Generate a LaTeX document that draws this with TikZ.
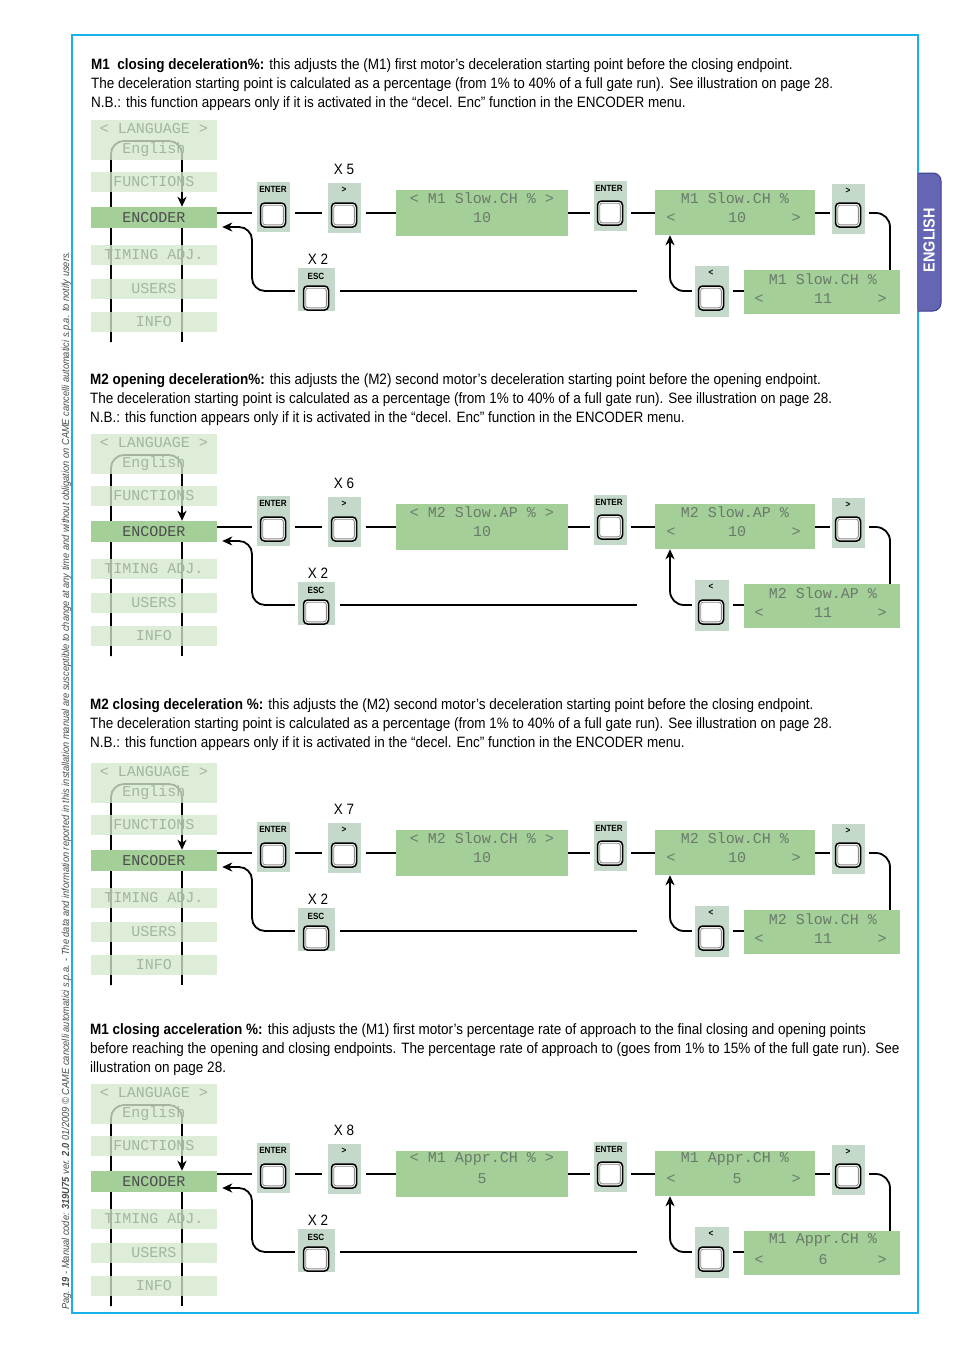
\documentclass[tikz,border=0pt]{standalone}
\usepackage{fontspec}
\setmainfont{Liberation Sans}[FakeStretch=0.9]
\newfontfamily\lcdfont{Liberation Mono}
\usetikzlibrary{arrows.meta,backgrounds,calc}
\definecolor{lcdg}{HTML}{A4CF98}
\definecolor{menul}{HTML}{D4E8CC}
\definecolor{btng}{HTML}{C5D9CB}
\definecolor{lcdtext}{HTML}{6A7A6A}
\definecolor{menutext}{HTML}{A3B59F}
\definecolor{framec}{HTML}{1AB0E8}
\definecolor{tabc}{HTML}{6466B4}
\definecolor{tabd}{HTML}{3C3E8C}
\tikzset{
  flow/.style={line width=1.8pt, draw=black},
  arr/.style={flow, -{Stealth[length=10pt,width=9pt,inset=3pt]}},
  menubox/.style={fill=menul, fill opacity=0.78, text opacity=1, minimum width=126pt, minimum height=20pt, inner sep=0pt,
     font=\lcdfont\fontsize{15}{15}\selectfont, text=menutext},
  encbox/.style={fill=lcdg, minimum width=126pt, minimum height=21pt, inner sep=0pt,
     font=\lcdfont\fontsize{15}{15}\selectfont, text=black!70},
  menutxt/.style={inner sep=0pt, font=\lcdfont\fontsize{15}{15}\selectfont, text=menutext},
  lcdbox/.style={fill=lcdg, inner sep=0pt},
  lcdtxt/.style={inner sep=0pt, font=\lcdfont\fontsize{15}{15}\selectfont, text=lcdtext},
  btnbg/.style={fill=btng, inner sep=0pt, minimum width=33pt, minimum height=50pt},
  btn/.style={fill=white, draw=black, line width=1.5pt, rounded corners=4pt, minimum width=25pt, minimum height=24pt, inner sep=0pt,
     path picture={\draw[black!45, line width=0.9pt, rounded corners=2.5pt]
       ([shift={(2.2pt,-2.2pt)}]path picture bounding box.north west) rectangle
       ([shift={(-2.2pt,2.2pt)}]path picture bounding box.south east);}},
  btnlbl/.style={inner sep=0pt, font=\bfseries\fontsize{9}{9}\selectfont},
  xlbl/.style={inner sep=0pt, font=\fontsize{15}{15}\selectfont},
  body/.style={inner sep=0pt, anchor=base west, font=\fontsize{15}{15}\selectfont},
}
\newcommand\MenuCol[2]{%
\begin{scope}[shift={(0,#1)}]
  \node[menubox, minimum height=40pt] (lang#2) at (154,140) {};
  \node[menutxt] (langa#2) at (154,129) {< LANGUAGE >};
  \node[menutxt] (langb#2) at (154,150) {English};
  \node[menubox] (func#2) at (154,182) {FUNCTIONS};
  \node[encbox] (enc#2) at (154,217.5) {ENCODER};
  \node[menubox] (tim#2) at (154,255) {TIMING ADJ.};
  \node[menubox] (usr#2) at (154,288.5) {USERS};
  \node[menubox] (inf#2) at (154,322) {INFO};
  \coordinate (lbot#2) at (111,342);
  \coordinate (rbot#2) at (182,342);
  \begin{pgfonlayer}{background}
    \draw[arr, rounded corners=13pt] (lbot#2) -- (111,141) -- (182,141) -- (enc#2.north -| rbot#2);
    \draw[flow] (enc#2.south -| rbot#2) -- (rbot#2);
  \end{pgfonlayer}
\end{scope}}
\newcommand\FlowRow[6]{%
\begin{scope}[shift={(0,#1)}]
  \coordinate (row#2) at (0,213);
  \coordinate (rowb#2) at (0,291);
  \coordinate (ea#2) at (0,227);
  \coordinate (rc#2) at (890,213);
  \coordinate (lc#2) at (670,291);
  \coordinate (ec#2) at (252,291);
  \coordinate (escend#2) at (637,291);
  % ENTER 1
  \node[btnbg] (ea1#2) at (273,206.5) {};
  \node[btnlbl] (ea1l#2) at (273,189) {ENTER};
  \node[btn] (ea1b#2) at (273,215) {};
  % > 1
  \node[btnbg] (nx1#2) at (344,208) {};
  \node[btnlbl] (nx1l#2) at (344,190) {>};
  \node[btn] (nx1b#2) at (344,215) {};
  \node[xlbl] (xa#2) at (344,169) {X #3};
  % LCD 1
  \node[lcdbox, minimum width=172pt, minimum height=46pt] (d1#2) at (482,213) {};
  \node[lcdtxt] (d1a#2) at (482,198) {< #4 >};
  \node[lcdtxt] (d1b#2) at (482,218) {#5};
  % ENTER 2
  \node[btnbg] (ea2#2) at (610.5,205.5) {};
  \node[btnlbl] (ea2l#2) at (609,188) {ENTER};
  \node[btn] (ea2b#2) at (610,213) {};
  % LCD 2
  \node[lcdbox, minimum width=160pt, minimum height=45pt] (d2#2) at (735,212.5) {};
  \node[lcdtxt] (d2a#2) at (735,198) {#4};
  \node[lcdtxt] (d2l#2) at (671,218) {<};
  \node[lcdtxt] (d2b#2) at (737,218) {#5};
  \node[lcdtxt] (d2r#2) at (796,218) {>};
  % > 2
  \node[btnbg] (nx2#2) at (848.5,209) {};
  \node[btnlbl] (nx2l#2) at (848,191) {>};
  \node[btn] (nx2b#2) at (848,215) {};
  % LCD 3
  \node[lcdbox, minimum width=156pt, minimum height=44pt] (d3#2) at (822,292) {};
  \node[lcdtxt] (d3a#2) at (823,279) {#4};
  \node[lcdtxt] (d3l#2) at (759,299) {<};
  \node[lcdtxt] (d3b#2) at (823,299) {#6};
  \node[lcdtxt] (d3r#2) at (882,299) {>};
  % < button
  \node[btnbg, minimum width=34pt, minimum height=51pt] (lt#2) at (712,291.5) {};
  \node[btnlbl] (ltl#2) at (711,273) {<};
  \node[btn] (ltb#2) at (711,298) {};
  % ESC
  \node[btnbg, minimum width=37pt, minimum height=43pt] (esc#2) at (316.5,289.5) {};
  \node[btnlbl] (escl#2) at (316,276) {ESC};
  \node[btn] (escb#2) at (316,298) {};
  \node[xlbl] (xb#2) at (318,259) {X 2};
  % connectors
  \draw[flow, shorten >=4pt] (enc#2.east |- row#2) -- (ea1#2.west |- row#2);
  \draw[flow, shorten <=5pt, shorten >=5pt] (ea1#2.east |- row#2) -- (nx1#2.west |- row#2);
  \draw[flow, shorten <=5pt] (nx1#2.east |- row#2) -- (d1#2.west |- row#2);
  \draw[flow, shorten >=4pt] (d1#2.east |- row#2) -- (ea2#2.west |- row#2);
  \draw[flow, shorten <=4pt] (ea2#2.east |- row#2) -- (d2#2.west |- row#2);
  \draw[flow, shorten >=2pt] (d2#2.east |- row#2) -- (nx2#2.west |- row#2);
  \draw[flow, rounded corners=14pt, shorten <=4pt] (nx2#2.east |- row#2) -- (rc#2) -- (d3#2.north -| rc#2);
  \draw[flow, shorten >=4pt] (d3#2.west |- rowb#2) -- (lt#2.east |- rowb#2);
  \draw[arr, rounded corners=14pt, shorten <=3pt] (lt#2.west |- rowb#2) -- (lc#2) -- (d2#2.south -| lc#2);
  \draw[arr, rounded corners=13pt, shorten <=3pt, shorten >=5pt] (esc#2.west |- rowb#2) -- (ec#2) -- (ec#2 |- ea#2) -- (enc#2.east |- ea#2);
  \draw[flow, shorten <=5pt] (esc#2.east |- rowb#2) -- (escend#2);
\end{scope}}
\begin{document}
\begin{tikzpicture}[x=1pt,y=-1pt]
\useasboundingbox (0,0) rectangle (954,1350);
% frame and tab
\node[draw=framec, line width=1.2pt, minimum width=846pt, minimum height=1278pt, inner sep=0pt] (frame) at (495,674) {};
\draw[fill=tabc, draw=tabd, line width=1pt, rounded corners=8pt] (918,173) -- (941,173) -- (941,311) -- (918,311);
\draw[fill=tabc, draw=none] (917,174) rectangle (930,310);
\node[rotate=90, text=white, font=\bfseries\fontsize{16}{16}\selectfont, inner sep=0pt] (tab) at (929,240) {ENGLISH};
% footer
\node[rotate=90, anchor=base west, inner sep=0pt, text=black!70, font=\itshape\fontsize{10.3}{10.3}\selectfont] (footer) at (69,1310)
 {Pag. \textbf{19} - Manual code: \textbf{319U75} ver. \textbf{2.0} 01/2009 © CAME cancelli automatici s.p.a. - The data and information reported in this installation manual are susceptible to change at any time and without obligation on CAME cancelli automatici s.p.a. to notify users.};
% texts
\node[body] (s1a) at (91,69) {\textbf{M1\ \ closing deceleration\%:} this adjusts the (M1) first motor’s deceleration starting point before the closing endpoint.};
\node[body] (s1b) at (91,88) {The deceleration starting point is calculated as a percentage (from 1\% to 40\% of a full gate run). See illustration on page 28.};
\node[body] (s1c) at (91,107) {N.B.: this function appears only if it is activated in the “decel. Enc” function in the ENCODER menu.};
\node[body] (s2a) at (90,384) {\textbf{M2 opening deceleration\%:} this adjusts the (M2) second motor’s deceleration starting point before the opening endpoint.};
\node[body] (s2b) at (90,403) {The deceleration starting point is calculated as a percentage (from 1\% to 40\% of a full gate run). See illustration on page 28.};
\node[body] (s2c) at (90,422) {N.B.: this function appears only if it is activated in the “decel. Enc” function in the ENCODER menu.};
\node[body] (s3a) at (90,709) {\textbf{M2 closing deceleration \%:} this adjusts the (M2) second motor’s deceleration starting point before the closing endpoint.};
\node[body] (s3b) at (90,728) {The deceleration starting point is calculated as a percentage (from 1\% to 40\% of a full gate run). See illustration on page 28.};
\node[body] (s3c) at (90,747) {N.B.: this function appears only if it is activated in the “decel. Enc” function in the ENCODER menu.};
\node[body] (s4a) at (90,1034) {\textbf{M1 closing acceleration \%:} this adjusts the (M1) first motor’s percentage rate of approach to the final closing and opening points};
\node[body] (s4b) at (90,1053) {before reaching the opening and closing endpoints. The percentage rate of approach to (goes from 1\% to 15\% of the full gate run). See};
\node[body] (s4c) at (90,1072) {illustration on page 28.};
% diagrams
\MenuCol{0}{A}
\FlowRow{0}{A}{5}{M1 Slow.CH \%}{10}{11}
\MenuCol{314}{B}
\FlowRow{314}{B}{6}{M2 Slow.AP \%}{10}{11}
\MenuCol{643}{C}
\FlowRow{640}{C}{7}{M2 Slow.CH \%}{10}{11}
\MenuCol{964}{D}
\FlowRow{961}{D}{8}{M1 Appr.CH \%}{5}{6}
\end{tikzpicture}
\end{document}
